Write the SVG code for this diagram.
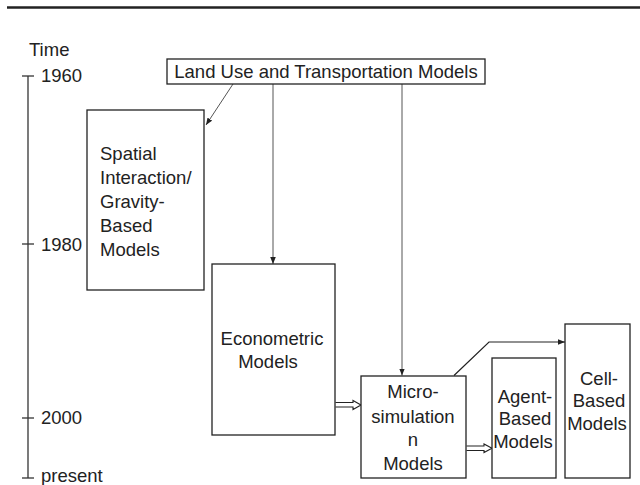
<svg xmlns="http://www.w3.org/2000/svg" width="640" height="485" viewBox="0 0 640 485">
<style>
  text { font-family: "Liberation Sans", Arial, sans-serif; font-size: 18.5px; fill: #222; }
  .box { fill: #fff; stroke: #222; stroke-width: 1.3; }
  .conn { fill: none; stroke: #555; stroke-width: 1; }
  .dark { fill: none; stroke: #222; stroke-width: 1.2; }
  .hollow { fill: #fff; stroke: #222; stroke-width: 1.1; }
  .axis { fill: none; stroke: #333; stroke-width: 1.3; }
  .c { text-anchor: middle; }
</style>
<defs>
  <marker id="ah" viewBox="0 0 10 10" refX="10" refY="5" markerWidth="7" markerHeight="7" markerUnits="userSpaceOnUse" orient="auto">
    <path d="M0,1 L10,5 L0,9 Z" fill="#222"/>
  </marker>
</defs>
<rect width="640" height="485" fill="#fff"/>
<line x1="7" y1="7.5" x2="640" y2="7.5" stroke="#222" stroke-width="2.5"/>

<g id="timeline">
  <line class="axis" x1="28" y1="76" x2="28" y2="478"/>
  <line class="axis" x1="22" y1="76" x2="34" y2="76"/>
  <line class="axis" x1="22" y1="244" x2="34" y2="244"/>
  <line class="axis" x1="22" y1="418" x2="34" y2="418"/>
  <line class="axis" x1="22" y1="478" x2="34" y2="478"/>
  <text x="29" y="56">Time</text>
  <text x="41" y="82">1960</text>
  <text x="41" y="251">1980</text>
  <text x="41" y="424">2000</text>
  <text x="41" y="482">present</text>
</g>

<g id="connectors">
  <line class="conn" x1="233" y1="84" x2="206" y2="125" marker-end="url(#ah)"/>
  <line class="conn" x1="273" y1="84" x2="273" y2="264" marker-end="url(#ah)"/>
  <line class="conn" x1="402" y1="84" x2="402" y2="375.5" marker-end="url(#ah)"/>
  <polyline class="dark" points="454,375.5 489,342 565,342" marker-end="url(#ah)"/>
  <path class="hollow" d="M335.5,402.5 H353 V400.5 L361,405 L353,409.5 V407 H335.5"/>
  <path class="hollow" d="M466.5,446 H484 V444 L492,448.3 L484,452.5 V450.5 H466.5"/>
</g>

<g id="landuse">
  <rect class="box" x="167" y="59" width="318" height="25"/>
  <text x="326" y="78" class="c">Land Use and Transportation Models</text>
</g>

<g id="spatial">
  <rect class="box" x="87" y="110" width="117" height="180"/>
  <text x="100" y="160">Spatial</text>
  <text x="100" y="184">Interaction/</text>
  <text x="100" y="208">Gravity-</text>
  <text x="100" y="232">Based</text>
  <text x="100" y="256">Models</text>
</g>

<g id="econometric">
  <rect class="box" x="212" y="264" width="123" height="171"/>
  <text x="272" y="345" class="c">Econometric</text>
  <text x="268" y="368" class="c">Models</text>
</g>

<g id="micro">
  <rect class="box" x="361" y="376" width="105" height="102"/>
  <text x="413" y="398" class="c">Micro-</text>
  <text x="413" y="423" class="c">simulation</text>
  <text x="413" y="446" class="c">n</text>
  <text x="413" y="470" class="c">Models</text>
</g>

<g id="agent">
  <rect class="box" x="492" y="358" width="64" height="120"/>
  <text x="525" y="403" class="c">Agent-</text>
  <text x="525" y="425" class="c">Based</text>
  <text x="523" y="448" class="c">Models</text>
</g>

<g id="cell">
  <rect class="box" x="565" y="324" width="65" height="154"/>
  <text x="599" y="385" class="c">Cell-</text>
  <text x="599" y="407" class="c">Based</text>
  <text x="597" y="430" class="c">Models</text>
</g>
</svg>
